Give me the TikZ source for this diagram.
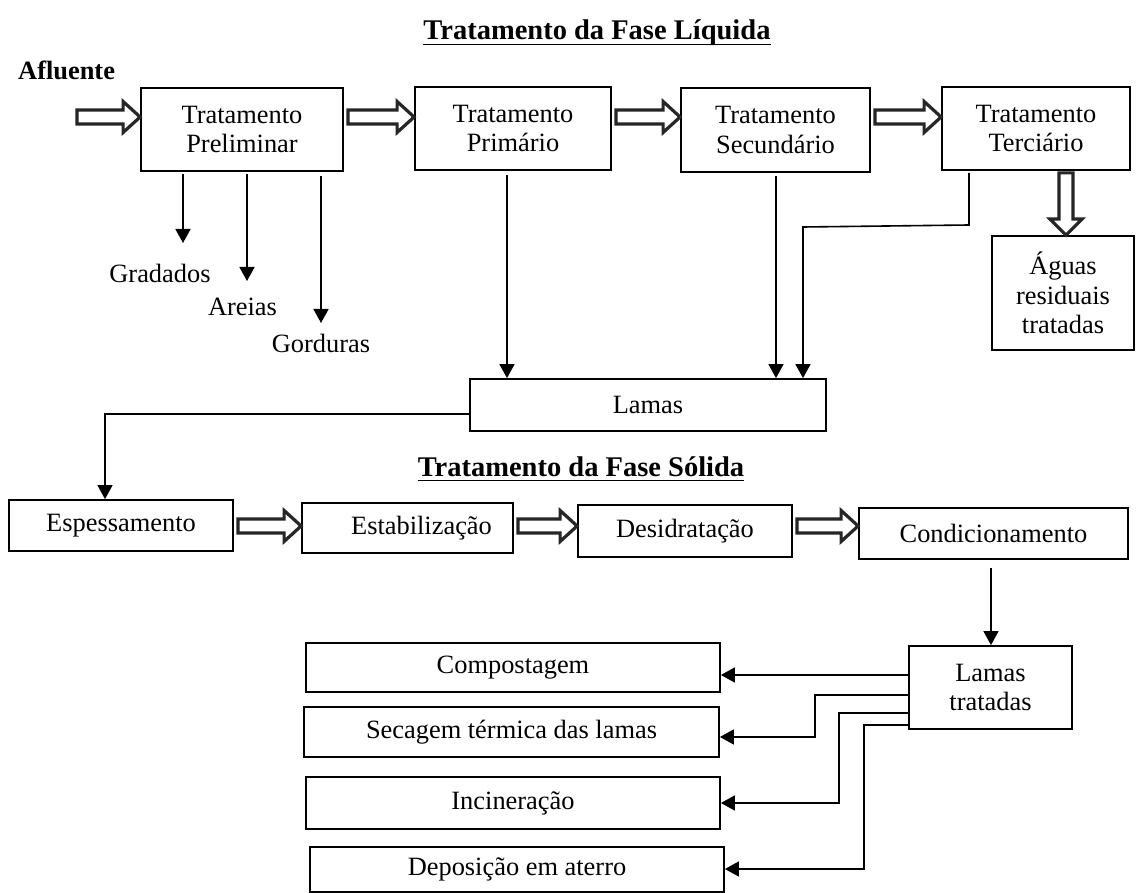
\documentclass[tikz,border=0pt]{standalone}
\usepackage{fontspec}
\setmainfont{Liberation Serif}
\usetikzlibrary{arrows.meta,calc}
\tikzset{
 box/.style={draw, line width=1.8pt, inner sep=0pt, align=center, font=\fontsize{26.4}{29.5}\selectfont},
 lbl/.style={inner sep=0pt, font=\fontsize{26.4}{29.5}\selectfont},
 ttl/.style={inner sep=0pt, font=\bfseries\fontsize{28.5}{32}\selectfont, anchor=base},
 tarrow/.style={line width=1.6pt, -{Triangle[length=14pt,width=15pt]}},
 hollow/.style={draw=black!85, line width=3.2pt, fill=white, line join=miter},
 uline/.style={line width=1.6pt}
}
\newcommand\harr[2]{\path[hollow] let \p1=(#1), \p2=(#2) in (\x1+4pt,\y1+7pt) -- (\x2-17pt,\y1+7pt) -- (\x2-17pt,\y1+15.5pt) -- (\x2,\y1) -- (\x2-17pt,\y1-15.5pt) -- (\x2-17pt,\y1-7pt) -- (\x1+4pt,\y1-7pt) -- cycle;}
\newcommand\varr[2]{\path[hollow] let \p1=(#1), \p2=(#2) in (\x1-7pt,\y1-2pt) -- (\x1-7pt,\y2+16pt) -- (\x1-16pt,\y2+16pt) -- (\x1,\y2) -- (\x1+16pt,\y2+16pt) -- (\x1+7pt,\y2+16pt) -- (\x1+7pt,\y1-2pt) -- cycle;}
\begin{document}
\begin{tikzpicture}[x=1pt,y=-1pt]
\fill[white] (0,0) rectangle (1136,893);
\useasboundingbox (0,0) rectangle (1136,893);

% titles
\node[ttl] (t1) at (597,40) {Tratamento da Fase Líquida};
\draw[uline] ([yshift=-4.5pt]t1.base west) -- ([yshift=-4.5pt]t1.base east);
\node[lbl, font=\bfseries\fontsize{26.4}{30}\selectfont, anchor=base west] (afl) at (18,80) {Afluente};

% liquid phase boxes
\node[box, minimum width=202pt, minimum height=83pt] (prelim) at (242,129.5) {Tratamento\\Preliminar};
\node[box, minimum width=196pt, minimum height=83pt] (prim) at (513,128.5) {Tratamento\\Primário};
\node[box, minimum width=189pt, minimum height=84pt] (sec) at (775.5,130) {Tratamento\\Secundário};
\node[box, minimum width=188pt, minimum height=83pt] (terc) at (1036,128.5) {Tratamento\\Terciário};
\node[box, minimum width=142pt, minimum height=114pt] (aguas) at (1063,293) {Águas\\residuais\\tratadas};
\node[box, minimum width=356pt, minimum height=52pt] (lamas) at (648,405) {Lamas};

\node[lbl] (grad) at (160,273) {Gradados};
\node[lbl] (are) at (242.5,307) {Areias};
\node[lbl] (gord) at (321,343) {Gorduras};

% hollow arrows
\coordinate (in) at (73,117);
\coordinate (r1) at (0,117);
\harr{in}{prelim.west |- r1}
\harr{prelim.east |- r1}{prim.west |- r1}
\harr{prim.east |- r1}{sec.west |- r1}
\harr{sec.east |- r1}{terc.west |- r1}
\coordinate (v1) at (1066,0);
\varr{terc.south -| v1}{aguas.north -| v1}

% thin arrows
\coordinate (g1) at (183,243);
\coordinate (g2) at (247,281);
\coordinate (g3) at (321,323);
\draw[tarrow, shorten <=2pt] (prelim.south -| g1) -- (g1);
\draw[tarrow, shorten <=2pt] (prelim.south -| g2) -- (g2);
\draw[tarrow, shorten <=4pt] (prelim.south -| g3) -- (g3);
\coordinate (p1) at (507,0);
\draw[tarrow, shorten <=4pt] (prim.south -| p1) -- (lamas.north -| p1);
\coordinate (p2) at (776,0);
\draw[tarrow, shorten <=3pt] (sec.south -| p2) -- (lamas.north -| p2);
\coordinate (p3a) at (969,225);
\coordinate (p3b) at (803,227);
\draw[tarrow, shorten <=2pt] (terc.south -| p3a) -- (p3a) -- (p3b) -- (lamas.north -| p3b);

% solid phase
\node[ttl] (t2) at (581,476) {Tratamento da Fase Sólida};
\draw[uline] ([yshift=-4.5pt]t2.base west) -- ([yshift=-4.5pt]t2.base east);

\node[box, minimum width=224pt, minimum height=51pt] (esp) at (121,525.5) {Espessamento};
\node[box, minimum width=211pt, minimum height=50pt] (estab) at (407.5,528) {\hspace*{28pt}Estabilização};
\node[box, minimum width=214pt, minimum height=52pt] (desid) at (685,531) {Desidratação};
\node[box, minimum width=269pt, minimum height=51pt] (cond) at (993.5,533.5) {Condicionamento};
\node[box, minimum width=163pt, minimum height=83pt] (ltrat) at (990.5,687.5) {Lamas\\tratadas};
\node[box, minimum width=414pt, minimum height=49pt] (comp) at (513,667.5) {Compostagem};
\node[box, minimum width=415pt, minimum height=50pt] (secag) at (511.5,732) {Secagem térmica das lamas};
\node[box, minimum width=414pt, minimum height=52pt] (incin) at (513,803) {Incineração};
\node[box, minimum width=414pt, minimum height=45pt] (depos) at (517,869.5) {Deposição em aterro};

\coordinate (lk) at (105,414);
\draw[tarrow] (lamas.west |- lk) -- (lk) -- (esp.north -| lk);

\coordinate (r2) at (0,526);
\harr{esp.east |- r2}{estab.west |- r2}
\harr{estab.east |- r2}{desid.west |- r2}
\harr{desid.east |- r2}{cond.west |- r2}

\coordinate (c1) at (991,0);
\draw[tarrow, shorten <=8pt] (cond.south -| c1) -- (ltrat.north -| c1);

\coordinate (b1) at (0,675);
\draw[tarrow] (ltrat.west |- b1) -- (comp.east |- b1);
\coordinate (b2a) at (815,695);
\coordinate (b2b) at (815,737);
\draw[tarrow] (ltrat.west |- b2a) -- (b2a) -- (b2b) -- (secag.east |- b2b);
\coordinate (b3a) at (839,713);
\coordinate (b3b) at (839,803);
\draw[tarrow] (ltrat.west |- b3a) -- (b3a) -- (b3b) -- (incin.east |- b3b);
\coordinate (b4a) at (864,725);
\coordinate (b4b) at (864,869);
\draw[tarrow] (ltrat.west |- b4a) -- (b4a) -- (b4b) -- (depos.east |- b4b);
\end{tikzpicture}
\end{document}
